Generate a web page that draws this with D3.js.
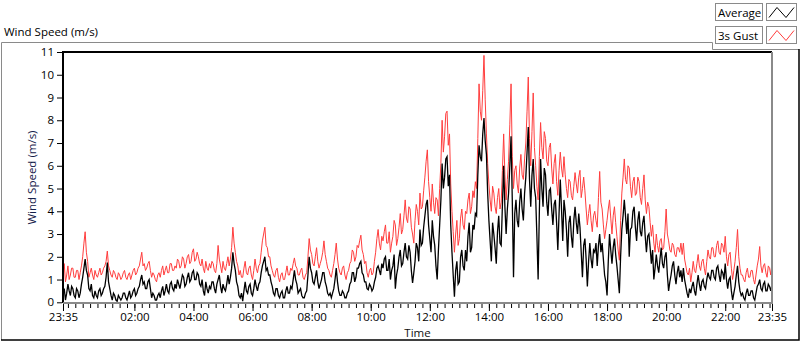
<!DOCTYPE html>
<html>
<head>
<meta charset="utf-8">
<script src="https://cdn.jsdelivr.net/npm/d3@7"></script>
<style>
  body { margin: 0; background: #fff; }
  svg { display: block; font-family: "Open Sans", "Noto Sans", sans-serif; }
</style>
</head>
<body>
<script>
// samples every 2.5 minutes, starting 23:35, one row = one hour
const startTime = new Date(2021, 0, 1, 23, 35);
const stepSeconds = 150;

const gust = [
  1.3,1.7, 0.9,1.2, 1.6,1.0, 1.2,1.5, 1.5,1.1, 1.1,1.4, 1.4,1.0, 1.3,1.6, 2.0,2.6, 3.1,2.2, 1.8,1.1, 1.3,1.5,
  1.2,1.0, 1.4,1.2, 1.1,1.3, 1.5,1.2, 1.3,1.5, 1.6,1.8, 2.25,1.6, 1.4,1.2, 1.1,1.4, 1.3,1.1, 1.0,1.3, 1.2,1.0,
  1.1,1.3, 1.4,1.1, 1.0,1.2, 1.3,1.0, 1.2,1.4, 1.5,1.2, 1.3,1.5, 1.6,1.9, 2.2,1.6, 1.7,1.4, 1.5,1.7, 1.8,1.4,
  1.1,1.3, 1.2,1.0, 0.9,1.2, 1.3,1.1, 1.4,1.6, 1.2,1.4, 1.6,1.3, 1.3,1.7, 1.7,1.4, 1.4,1.6, 1.5,1.9, 1.8,1.5,
  1.6,2.0, 1.9,1.5, 1.7,2.0, 2.1,1.7, 1.8,2.2, 2.35,1.8, 1.9,2.2, 2.0,1.7, 1.6,1.9, 1.5,1.3, 1.8,1.5, 1.4,1.7,
  1.5,1.8, 1.7,1.4, 1.3,1.7, 2.5,1.9, 1.6,1.3, 1.8,1.5, 1.4,1.7, 2.0,1.6, 1.9,2.4, 3.3,2.6, 2.2,1.8, 1.6,1.2,
  1.4,1.1, 1.1,1.5, 1.8,1.3, 1.2,1.5, 1.6,1.2, 1.0,1.4, 1.9,1.5, 1.3,1.6, 1.7,2.2, 2.7,3.0, 3.3,2.5, 2.4,2.0,
  2.0,1.6, 1.4,1.2, 1.1,1.4, 1.5,1.1, 0.9,1.2, 1.3,1.0, 1.0,1.3, 1.6,1.2, 1.2,1.5, 1.4,1.7, 1.95,1.6, 1.5,1.2,
  1.2,1.4, 1.5,1.1, 1.0,1.2, 1.3,2.0, 2.8,2.3, 2.1,1.7, 1.6,2.0, 2.4,1.8, 1.5,1.7, 1.9,2.2, 2.7,2.1, 1.8,1.5,
  1.4,1.2, 1.1,1.4, 1.7,2.1, 2.6,1.9, 1.5,1.3, 1.2,1.5, 1.6,1.2, 1.0,1.3, 1.4,1.7, 1.8,2.3, 2.2,1.8, 2.0,2.5,
  2.4,2.7, 2.95,2.3, 2.1,1.7, 1.8,1.3, 1.1,1.4, 1.5,1.2, 1.3,1.8, 2.2,2.8, 3.2,2.6, 2.3,2.9, 2.7,3.1, 3.4,2.6,
  2.6,3.1, 2.2,2.6, 2.9,3.6, 3.4,2.5, 2.8,3.3, 3.9,3.0, 3.2,3.8, 4.5,3.7, 3.5,4.2, 4.1,3.3, 3.0,2.6, 3.6,4.3,
  4.0,3.4, 4.8,4.1, 4.2,4.9, 5.5,6.2, 6.7,5.3, 4.6,4.0, 5.2,4.4, 3.9,4.6, 4.5,3.8, 5.0,6.1, 8.0,6.6, 7.3,8.3,
  8.4,6.9, 7.4,5.2, 4.0,3.1, 2.2,3.0, 3.6,2.5, 2.8,3.7, 4.1,3.4, 3.2,4.0, 3.9,4.5, 4.8,3.9, 4.2,4.9, 4.6,5.3,
  5.0,7.2, 9.6,8.4, 8.0,9.3, 10.85,8.9, 7.4,6.1, 5.2,4.5, 4.0,5.1, 4.8,4.2, 3.9,4.6, 5.0,4.1, 4.4,5.8, 7.4,5.6,
  4.5,5.4, 6.2,7.8, 9.6,6.4, 5.0,5.8, 6.0,5.2, 4.8,5.9, 6.5,5.6, 5.4,6.3, 7.0,8.4, 9.9,7.2, 6.0,7.5, 9.2,6.8,
  6.0,5.1, 4.5,6.4, 7.9,6.8, 6.3,7.5, 7.2,6.2, 6.0,6.8, 7.0,5.9, 5.2,6.1, 6.5,5.3, 4.7,5.8, 6.6,5.9, 5.5,6.4,
  5.6,5.0, 4.6,5.4, 5.3,4.7, 4.5,5.1, 5.7,5.2, 4.8,5.5, 5.8,4.6, 5.0,5.5, 4.9,4.1, 3.4,3.9, 4.3,3.6, 3.1,3.8,
  4.0,3.6, 3.3,4.6, 5.75,4.4, 4.1,3.4, 2.8,3.2, 3.6,4.1, 4.5,3.7, 3.0,3.8, 4.2,3.5, 2.9,2.3, 1.85,3.6, 4.8,5.5,
  6.3,5.4, 5.2,6.0, 5.9,5.1, 4.6,5.3, 5.5,4.7, 4.8,5.5, 5.3,4.6, 4.3,5.0, 5.6,4.5, 3.9,4.4, 4.2,3.5, 2.9,3.4,
  2.6,2.2, 3.0,2.5, 2.2,2.7, 2.8,2.3, 2.4,3.1, 4.1,3.0, 2.7,2.3, 2.2,2.6, 2.5,2.1, 2.0,2.4, 2.4,2.2, 2.6,2.1,
  2.6,1.9, 1.6,1.3, 1.2,1.5, 0.9,1.3, 1.8,1.4, 1.3,1.7, 2.1,1.6, 1.4,1.8, 1.9,1.5, 1.2,1.8, 2.3,2.0, 1.9,2.4,
  2.4,2.0, 2.0,2.5, 2.7,2.2, 2.1,2.6, 2.5,2.2, 2.9,2.0, 1.6,2.1, 2.2,1.5, 1.0,1.4, 1.8,2.4, 3.2,2.0, 1.5,1.2,
  1.2,1.0, 0.9,1.3, 1.5,1.1, 1.1,1.4, 1.4,1.0, 0.8,1.2, 1.6,1.9, 2.45,1.6, 1.3,1.6, 1.7,1.3, 1.1,1.6, 1.5,1.2,
  1.8
];

const average = [
  0.3,0.6, 0.1,0.4, 0.8,0.5, 0.3,0.7, 0.6,0.3, 0.2,0.6, 0.5,0.2, 0.4,0.8, 1.1,1.5, 1.9,1.4, 1.2,0.6, 0.5,0.8,
  0.3,0.2, 0.5,0.3, 0.2,0.5, 0.6,0.3, 0.4,0.6, 0.7,1.1, 1.75,0.9, 0.6,0.3, 0.1,0.4, 0.3,0.1, 0.05,0.3, 0.2,0.1,
  0.2,0.4, 0.4,0.2, 0.1,0.3, 0.5,0.2, 0.3,0.5, 0.6,0.3, 0.4,0.6, 0.7,1.0, 1.2,0.8, 0.9,0.6, 0.6,0.9, 1.0,0.6,
  0.2,0.4, 0.3,0.1, 0.1,0.3, 0.4,0.2, 0.5,0.7, 0.3,0.5, 0.8,0.5, 0.4,0.8, 0.9,0.6, 0.5,0.8, 0.6,1.0, 0.8,0.6,
  0.9,1.2, 1.1,0.7, 0.8,1.1, 1.3,0.9, 1.0,1.3, 1.4,1.0, 1.0,1.3, 1.2,0.8, 0.7,1.0, 0.5,0.3, 0.9,0.6, 0.4,0.7,
  0.6,0.9, 0.9,0.6, 0.4,0.8, 1.0,1.2, 0.7,0.4, 0.8,0.6, 0.5,0.8, 1.2,0.8, 1.1,1.5, 2.2,1.7, 1.4,0.9, 0.7,0.3,
  0.2,0.4, 0.05,0.5, 0.9,0.5, 0.4,0.7, 0.8,0.4, 0.3,0.6, 1.0,0.7, 0.5,0.8, 0.9,1.3, 1.6,1.8, 2.0,1.4, 1.5,1.2,
  1.2,0.9, 0.7,0.4, 0.3,0.6, 0.6,0.3, 0.2,0.4, 0.5,0.2, 0.2,0.5, 0.7,0.4, 0.4,0.7, 0.6,1.0, 1.4,1.0, 0.8,0.4,
  0.5,0.6, 0.3,0.2, 0.2,0.4, 0.5,1.2, 2.0,1.5, 1.3,0.9, 0.8,1.1, 1.4,0.9, 0.6,0.8, 1.0,1.3, 1.3,0.9, 0.7,0.4,
  0.3,0.4, 0.2,0.4, 0.6,1.0, 1.5,0.9, 0.5,0.3, 0.3,0.5, 0.4,0.2, 0.2,0.4, 0.5,0.8, 0.9,1.3, 1.3,0.9, 1.1,1.5,
  1.5,1.7, 1.8,1.3, 1.2,0.9, 0.9,0.6, 0.55,0.8, 0.7,0.5, 0.6,0.9, 1.1,1.5, 1.6,1.4, 1.2,1.7, 1.5,1.9, 2.0,1.4,
  1.4,1.9, 1.0,1.4, 1.6,2.1, 0.6,1.2, 1.5,2.0, 2.3,1.6, 1.7,2.2, 2.6,2.0, 1.9,2.5, 2.2,1.4, 0.85,1.3, 1.8,2.6,
  2.4,1.8, 3.2,2.5, 2.6,3.3, 3.8,4.3, 4.5,3.4, 2.8,2.2, 3.6,2.9, 2.5,1.6, 1.0,2.3, 3.4,4.5, 6.1,5.0, 5.5,6.3,
  6.4,5.1, 5.6,3.4, 2.2,1.2, 0.25,1.4, 1.8,0.8, 0.9,2.0, 2.3,1.6, 1.4,2.3, 1.8,2.9, 3.5,2.2, 2.4,3.4, 3.2,3.9,
  3.8,5.6, 6.9,6.4, 6.2,7.4, 8.1,7.1, 6.5,4.8, 3.6,2.7, 1.8,3.5, 3.0,2.4, 1.7,3.1, 3.8,2.6, 2.5,4.3, 6.0,4.2,
  3.0,4.1, 4.8,6.0, 7.3,4.5, 1.1,3.9, 4.5,3.6, 3.3,4.4, 5.0,4.1, 3.6,4.8, 5.5,6.6, 7.7,5.4, 4.2,5.6, 6.3,5.0,
  4.6,2.9, 1.0,4.0, 6.3,5.0, 4.2,5.9, 5.6,4.4, 3.8,4.9, 5.0,4.1, 3.4,4.3, 4.5,3.5, 2.3,3.9, 5.4,4.1, 2.7,4.5,
  4.0,3.2, 2.0,3.5, 3.8,2.9, 2.4,3.6, 4.2,3.5, 3.0,3.9, 3.3,2.2, 1.1,2.5, 2.8,1.9, 0.7,1.8, 2.6,1.9, 1.5,2.3,
  2.2,2.6, 1.6,2.5, 3.0,2.2, 2.6,1.9, 1.2,0.9, 0.3,1.8, 3.0,2.3, 1.7,2.4, 2.8,2.1, 1.6,1.0, 0.4,2.0, 3.2,3.8,
  4.5,3.8, 3.0,3.9, 2.0,3.2, 3.3,4.0, 4.2,3.3, 2.7,3.6, 4.0,3.1, 2.9,3.5, 3.8,2.9, 2.2,2.9, 3.0,2.4, 1.7,2.3,
  1.0,1.5, 2.1,1.6, 1.3,1.9, 2.4,1.7, 1.5,2.0, 2.2,1.2, 0.5,0.9, 1.2,1.6, 1.8,1.2, 0.8,1.3, 1.6,1.1, 1.4,0.9,
  1.5,1.0, 0.7,0.4, 0.2,0.6, 0.4,0.7, 0.9,0.5, 0.3,0.8, 1.2,0.8, 0.5,0.9, 1.0,0.7, 0.6,1.0, 1.3,1.1, 1.0,1.4,
  1.4,1.1, 1.0,1.5, 1.6,1.2, 0.9,1.4, 1.3,1.0, 1.7,1.0, 0.6,1.0, 1.1,0.5, 0.1,0.4, 0.7,1.2, 1.6,0.9, 0.5,0.3,
  0.4,0.2, 0.1,0.4, 0.6,0.3, 0.3,0.5, 0.5,0.2, 0.1,0.4, 0.7,0.8, 1.0,0.6, 0.5,0.8, 0.9,0.5, 0.5,0.8, 0.7,0.5,
  0.8
];

const yTicks = [0, 1, 2, 3, 4, 5, 6, 7, 8, 9, 10, 11];
const xTickHours = [2, 4, 6, 8, 10, 12, 14, 16, 18, 20, 22];
const seriesNames = ["Average", "3s Gust"];
const seriesColors = ["#000000", "#ff3d3d"];

const width = 800, height = 342;
const plot = { left: 63, right: 772, top: 52, bottom: 303 };

const svg = d3.select("body").append("svg")
  .attr("width", width)
  .attr("height", height);

const endTime = d3.timeMinute.offset(startTime, 24 * 60);

const x = d3.scaleTime()
  .domain([startTime, endTime])
  .range([plot.left, plot.right]);

const y = d3.scaleLinear()
  .domain([0, 11])
  .range([plot.bottom - 0.7, plot.top]);

// outer frame
svg.append("path")
  .attr("d", "M1.5,340 L1.5,42.5 L712.5,42.5 L712.5,49.5 L799,49.5")
  .attr("fill", "none").attr("stroke", "#8a8a8a").attr("stroke-width", 1);
svg.append("path")
  .attr("d", "M1,340 L799,340 L799,49")
  .attr("fill", "none").attr("stroke", "#000").attr("stroke-width", 1.5);

// title
svg.append("text")
  .attr("x", 4).attr("y", 36)
  .attr("font-size", 11.5)
  .attr("fill", "#000")
  .text("Wind Speed (m/s)");

// data lines
const toPoints = arr => arr.map((v, i) => ({ t: d3.timeSecond.offset(startTime, i * stepSeconds), v }));

const line = d3.line()
  .x(d => x(d.t))
  .y(d => y(d.v));

svg.append("clipPath").attr("id", "plotclip")
  .append("rect")
  .attr("x", plot.left).attr("y", plot.top)
  .attr("width", plot.right - plot.left).attr("height", plot.bottom - plot.top);

const lines = svg.append("g").attr("clip-path", "url(#plotclip)");

lines.append("path")
  .datum(toPoints(gust))
  .attr("fill", "none")
  .attr("stroke", seriesColors[1])
  .attr("stroke-width", 1)
  .attr("d", line);

lines.append("path")
  .datum(toPoints(average))
  .attr("fill", "none")
  .attr("stroke", seriesColors[0])
  .attr("stroke-width", 1.3)
  .attr("d", line);

// plot border: dark top/left, grey bottom/right
svg.append("path")
  .attr("d", `M${plot.left},${plot.bottom} L${plot.left},${plot.top} L${plot.right},${plot.top}`)
  .attr("fill", "none").attr("stroke", "#000").attr("stroke-width", 2);
svg.append("path")
  .attr("d", `M${plot.left},${plot.bottom} L${plot.right},${plot.bottom} L${plot.right},${plot.top}`)
  .attr("fill", "none").attr("stroke", "#8a8a8a").attr("stroke-width", 2);

// Y axis
const yAxis = svg.append("g")
  .attr("transform", `translate(${plot.left - 1},0)`)
  .call(d3.axisLeft(y).tickValues(yTicks).tickSize(5).tickPadding(3).tickFormat(d3.format("d")));
yAxis.select(".domain").remove();
yAxis.selectAll("text").attr("font-size", 11.5).attr("fill", "#000").attr("font-family", "Open Sans");

// X axis minor ticks every 15 min
const minorTicks = d3.timeMinute.every(15).range(startTime, endTime);
const xMinor = svg.append("g")
  .attr("transform", `translate(0,${plot.bottom + 1})`)
  .call(d3.axisBottom(x).tickValues(minorTicks).tickSize(4).tickFormat(""));
xMinor.select(".domain").remove();

// X axis major ticks
const majorTicks = [startTime]
  .concat(xTickHours.map(h => new Date(2021, 0, 2, h, 0)))
  .concat([endTime]);
const xMajor = svg.append("g")
  .attr("transform", `translate(0,${plot.bottom + 1})`)
  .call(d3.axisBottom(x).tickValues(majorTicks).tickSize(7).tickPadding(2).tickFormat(d3.timeFormat("%H:%M")));
xMajor.select(".domain").remove();
xMajor.selectAll("text").attr("font-size", 11.5).attr("fill", "#000").attr("font-family", "Open Sans");

// axis titles
svg.append("text")
  .attr("x", (plot.left + plot.right) / 2)
  .attr("y", 337)
  .attr("text-anchor", "middle")
  .attr("font-size", 11.5)
  .attr("fill", "#111")
  .text("Time");

svg.append("text")
  .attr("transform", `translate(36,${(plot.top + plot.bottom) / 2}) rotate(-90)`)
  .attr("text-anchor", "middle")
  .attr("font-size", 11.5)
  .attr("fill", "#14204a")
  .text("Wind Speed (m/s)");

// legend
const legend = svg.append("g");
seriesNames.forEach((name, i) => {
  const top = 3.5 + i * 23;
  legend.append("rect")
    .attr("x", 715.5).attr("y", top)
    .attr("width", 47).attr("height", 17)
    .attr("fill", "#fff").attr("stroke", "#8a8a8a");
  legend.append("text")
    .attr("x", 718).attr("y", top + 13)
    .attr("font-size", 11.5)
    .attr("fill", "#000")
    .text(name);
  legend.append("rect")
    .attr("x", 766.5).attr("y", top)
    .attr("width", 30).attr("height", 17)
    .attr("fill", "#fff").attr("stroke", "#8a8a8a");
  legend.append("path")
    .attr("d", `M769,${top + 14} L777,${top + 4} L786,${top + 14} L794,${top + 4}`)
    .attr("fill", "none")
    .attr("stroke", seriesColors[i])
    .attr("stroke-width", 1);
});
</script>
</body>
</html>
